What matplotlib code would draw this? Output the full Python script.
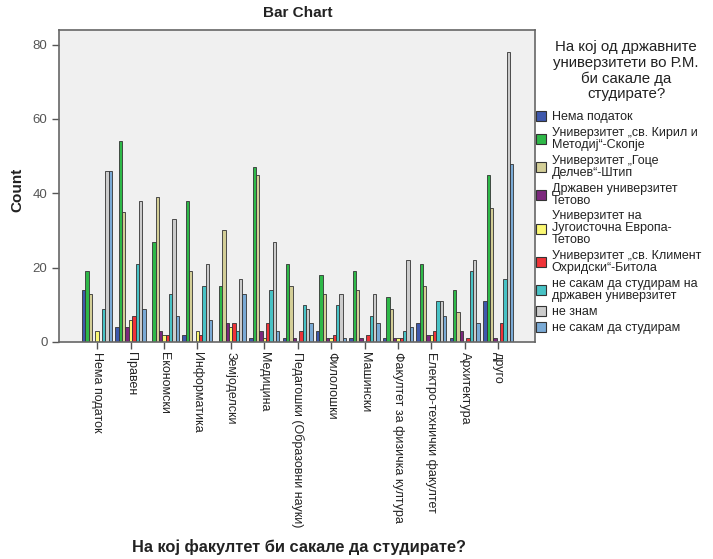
import numpy as np
import matplotlib.pyplot as plt
from matplotlib.patches import Patch

plt.rcParams['font.family'] = ['Liberation Sans', 'DejaVu Sans']

faculties = ['Нема податок', 'Правен', 'Економски', 'Информатика', 'Земјоделски',
             'Медицина', 'Педагошки (Образовни науки)', 'Филолошки', 'Машински',
             'Факултет за физичка култура', 'Електро-технички факултет',
             'Архитектура', 'друго']

universities = ['Нема податок',
                'Универзитет „св. Кирил и\nМетодиј“-Скопје',
                'Универзитет „Гоце\nДелчев“-Штип',
                'Државен универзитет\nТетово',
                'Универзитет на\nЈугоисточна Европа-\nТетово',
                'Универзитет „св. Климент\nОхридски“-Битола',
                'не сакам да студирам на\nдржавен универзитет',
                'не знам',
                'не сакам да студирам']

colors = ['#3E58AC', '#2EB848', '#D3CE97', '#7C287D', '#FBF873',
          '#EF3338', '#48C2C5', '#CCCCCC', '#7AAAD5']

# counts per university, one value per faculty (same order as faculties)
nema_podatok = [14, 4, 0, 2, 0, 1, 1, 3, 1, 1, 5, 1, 11]
ukim_skopje = [19, 54, 27, 38, 15, 47, 21, 18, 19, 12, 21, 14, 45]
ugd_shtip = [13, 35, 39, 19, 30, 45, 15, 13, 14, 9, 15, 8, 36]
du_tetovo = [0, 4, 3, 0, 5, 3, 1, 1, 1, 1, 2, 3, 1]
seeu_tetovo = [3, 6, 2, 3, 4, 1, 0, 1, 0, 1, 2, 0, 0]
uklo_bitola = [0, 7, 2, 2, 5, 5, 3, 2, 2, 1, 3, 1, 5]
ne_drzaven = [9, 21, 13, 15, 3, 14, 10, 10, 7, 3, 11, 19, 17]
ne_znam = [46, 38, 33, 21, 17, 27, 9, 13, 13, 22, 11, 22, 78]
ne_sakam = [46, 9, 7, 6, 13, 3, 5, 1, 5, 4, 7, 5, 48]

series = [nema_podatok, ukim_skopje, ugd_shtip, du_tetovo, seeu_tetovo,
          uklo_bitola, ne_drzaven, ne_znam, ne_sakam]

fig = plt.figure(figsize=(7.13, 5.59), dpi=100)
ax = fig.add_axes([59.3 / 713, 1 - 342 / 559, (535 - 59.3) / 713, (342 - 30) / 559])
ax.set_facecolor('#F0F0F0')

x = np.arange(len(faculties))
w = 0.1
for j, (vals, c) in enumerate(zip(series, colors)):
    ax.bar(x + (j - 4) * w, vals, w, color=c, edgecolor='#333333', linewidth=0.6, zorder=2)

ax.set_xlim(-1.13, 13.1)
ax.set_ylim(0, 83.9)
ax.set_yticks([0, 20, 40, 60, 80])
ax.set_xticks(x)
ax.set_xticklabels(faculties, rotation=270, ha='center', va='top', fontsize=9, color='#222222')
ax.tick_params(axis='y', labelsize=9.5, labelcolor='#555555', color='#555555', length=5, width=1)
ax.tick_params(axis='x', color='#555555', length=5, width=1, pad=2)
for s in ax.spines.values():
    s.set_color('#666666')
    s.set_linewidth(1.2)

fig.text(298 / 713, 1 - 13 / 559, 'Bar Chart', ha='center', va='center',
         fontsize=11, fontweight='bold', color='#222222')
fig.text(17 / 713, 1 - 190 / 559, 'Count', ha='center', va='center', rotation=90,
         fontsize=11, fontweight='bold', color='#222222')
fig.text(299 / 713, 1 - 547 / 559, 'На кој факултет би сакале да студирате?',
         ha='center', va='center', fontsize=11.8, fontweight='bold', color='#222222')

# legend title drawn separately so the gap to the entries can be matched
fig.text(626 / 713, 1 - 40 / 559,
         'На кој од државните\nуниверзитети во Р.М.\nби сакале да\nстудирате?',
         ha='center', va='top', multialignment='center', fontsize=10.8,
         linespacing=1.14, color='#222222')

handles = [Patch(facecolor=c, edgecolor='#333333', linewidth=0.8) for c in colors]
leg = fig.legend(handles, universities, loc='upper left',
                 bbox_to_anchor=(536 / 713, 1 - 111 / 559), frameon=False,
                 fontsize=9, handlelength=0.8, handleheight=0.88,
                 handletextpad=0.45, labelspacing=0.3, borderaxespad=0, borderpad=0)
for t in leg.get_texts():
    t.set_color('#222222')
    t.set_linespacing(1.0)

fig.savefig('out.png', dpi=100)
plt.close(fig)
